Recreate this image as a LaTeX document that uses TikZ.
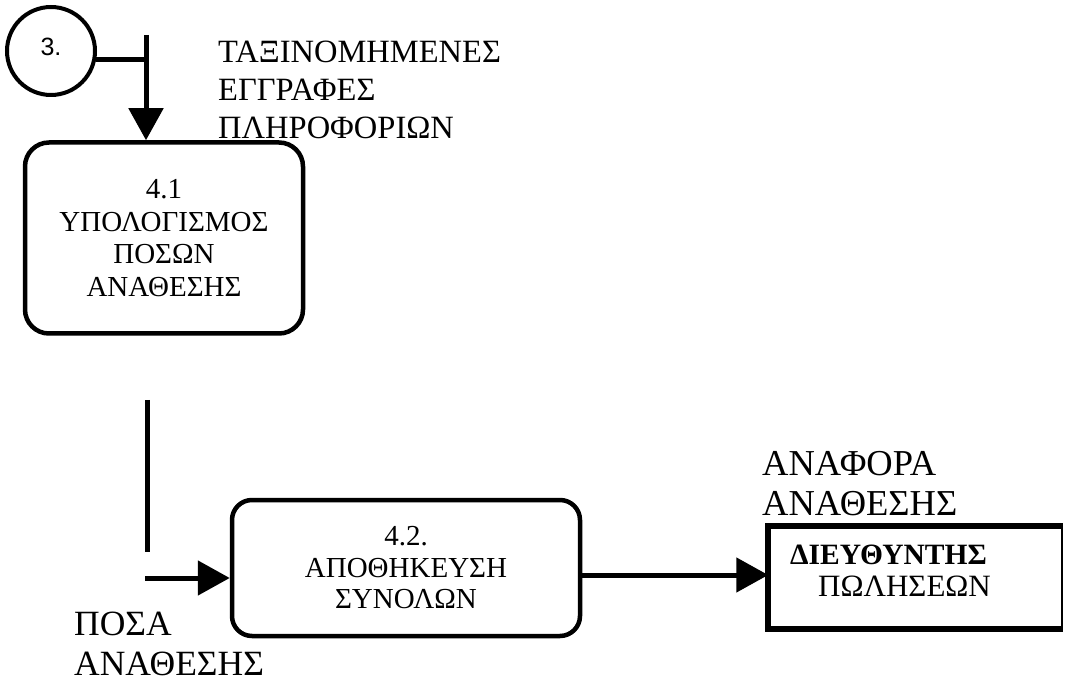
\documentclass[tikz,border=0pt]{standalone}
\usepackage{fontspec}
\setmainfont{Liberation Serif}
\newfontfamily\labelsans{Liberation Sans}
\usetikzlibrary{arrows.meta}
\begin{document}
\begin{tikzpicture}[x=1pt,y=-1pt,
  procbox/.style={draw, line width=4.5pt, rounded corners=24pt, fill=white,
                  align=center, inner sep=0pt},
  flow/.style={line width=5pt, -{Triangle[length=32pt,width=34pt]}},
  bar/.style={line width=5pt},
  flowlabel/.style={align=left, inner sep=0pt, anchor=north west},
]
\useasboundingbox (0,0) rectangle (1066,684);

% process 3 (source of the sorted records)
\node[draw, circle, line width=4pt, minimum size=88pt, inner sep=0pt] (c3) at (51,51) {};
\node[font=\labelsans\fontsize{25}{25}\selectfont, inner sep=0pt] (c3t) at (c3) [yshift=4pt] {3.};

% data flow label above process 4.1
\node[flowlabel, font=\fontsize{32.5}{38}\selectfont] (lab1) at (218,41)
  {ΤΑΞΙΝΟΜΗΜΕΝΕΣ\\ΕΓΓΡΑΦΕΣ\\ΠΛΗΡΟΦΟΡΙΩΝ};

% process 4.1
\node[procbox, minimum width=278pt, minimum height=191pt,
      font=\fontsize{29}{32.5}\selectfont] (p41) at (164,238)
  {4.1\\ΥΠΟΛΟΓΙΣΜΟΣ\\ΠΟΣΩΝ\\ΑΝΑΘΕΣΗΣ};

% flow 3 -> 4.1
\coordinate (t41) at (146,35);
\draw[bar] (c3.-11) -- (c3.-11 -| t41);
\draw[flow] (t41) -- (t41 |- p41.north);

% free vertical flow segment
\coordinate (v1) at (147,400);
\coordinate (v2) at (147,552);
\draw[bar] (v1) -- (v2);

% process 4.2
\node[procbox, rounded corners=20pt, minimum width=348pt, minimum height=136pt,
      font=\fontsize{29}{31.5}\selectfont] (p42) at (406,568)
  {4.2.\\ΑΠΟΘΗΚΕΥΣΗ\\ΣΥΝΟΛΩΝ};

% incoming flow to 4.2
\coordinate (in42) at (145,578);
\draw[flow] (in42) -- (in42 -| p42.west);
\node[flowlabel, font=\fontsize{35.5}{40}\selectfont] (lab2) at (74,612)
  {ΠΟΣΑ\\ΑΝΑΘΕΣΗΣ};

% external entity: sales manager
\node[draw, line width=1.5pt, minimum width=293pt, minimum height=101pt,
      inner sep=0pt] (ent) at (915.5,577.5) {};
\draw[line width=6pt] (ent.north east) -- (ent.north west)
  -- (ent.south west) -- (ent.south east);
\node[font=\bfseries\fontsize{29.5}{29.5}\selectfont, anchor=base west, inner sep=0pt]
  (entA) at (790,564) {ΔΙΕΥΘΥΝΤΗΣ};
\node[font=\fontsize{31}{31}\selectfont, anchor=base west, inner sep=0pt]
  (entB) at (818,596) {ΠΩΛΗΣΕΩΝ};

% flow 4.2 -> entity
\coordinate (h575) at (0,575);
\draw[flow] (p42.east |- h575) -- (ent.west |- h575);
\node[flowlabel, font=\fontsize{36.5}{40}\selectfont] (lab3) at (762,451)
  {ΑΝΑΦΟΡΑ\\ΑΝΑΘΕΣΗΣ};
\end{tikzpicture}
\end{document}
